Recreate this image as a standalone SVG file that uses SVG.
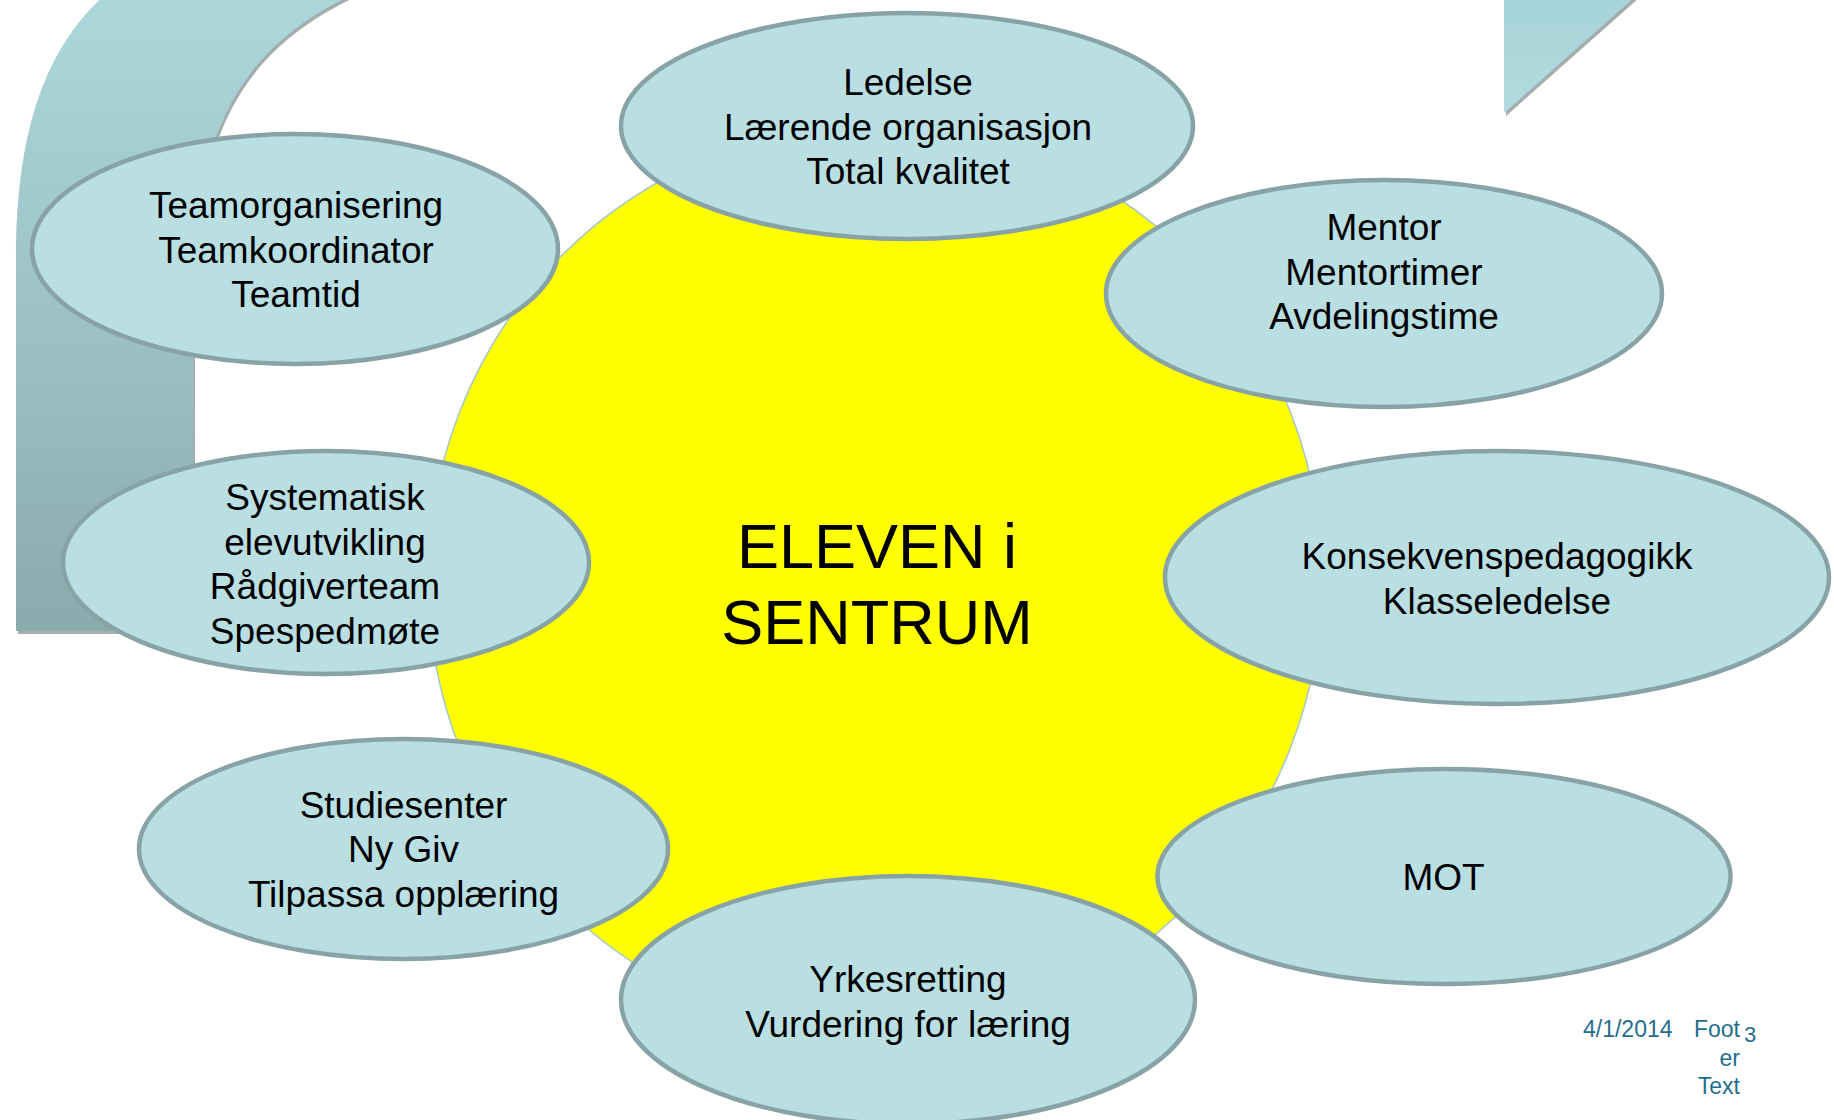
<svg xmlns="http://www.w3.org/2000/svg" width="1834" height="1120" viewBox="0 0 1834 1120">
  <defs>
    <linearGradient id="arcGrad" gradientUnits="userSpaceOnUse" x1="0" y1="0" x2="0" y2="631">
      <stop offset="0" stop-color="#abd7db"/>
      <stop offset="0.5" stop-color="#9dc2c6"/>
      <stop offset="1" stop-color="#8aaaad"/>
    </linearGradient>
    <linearGradient id="triGrad" gradientUnits="userSpaceOnUse" x1="0" y1="0" x2="0" y2="113">
      <stop offset="0" stop-color="#a7d4d8"/>
      <stop offset="1" stop-color="#b1dbdf"/>
    </linearGradient>
    <style>
      .bubble { fill: #b9dfe2; stroke: #87a3a6; stroke-width: 4.5; }
      .lbl { font-family: "Liberation Sans", Arial, sans-serif; font-size: 37px; fill: #000000; text-anchor: middle; }
      .big { font-family: "Liberation Sans", Arial, sans-serif; font-size: 63px; fill: #000000; text-anchor: middle; }
      .foot { font-family: "Liberation Sans", Arial, sans-serif; font-size: 23px; fill: #236e8e; }
      .shadow { fill: #8f9a9b; opacity: 0.8; }
    </style>
  </defs>
  <rect x="0" y="0" width="1834" height="1120" fill="#ffffff"/>

  <g id="background">
    <path class="shadow" transform="translate(2,3)" d="M16,631 L16,260 C16,120 50,30 130,-25 L400,-25 C245,30 193,120 193,300 L193,631 Z"/>
    <path fill="url(#arcGrad)" d="M16,631 L16,260 C16,120 50,30 130,-25 L400,-25 C245,30 193,120 193,300 L193,631 Z"/>
    <polygon class="shadow" transform="translate(2,3)" points="1504,-5 1637,-5 1504,113"/>
    <polygon fill="url(#triGrad)" points="1504,-5 1637,-5 1504,113"/>
  </g>

  <g id="center">
    <ellipse cx="875" cy="580" rx="447" ry="455" fill="#ffff00" stroke="#a3c7cf" stroke-width="1.5"/>
    <text class="big" x="877" y="568">ELEVEN i</text>
    <text class="big" x="877" y="644">SENTRUM</text>
  </g>

  <g id="connectors"></g>

  <g id="node-ledelse">
    <ellipse class="bubble" cx="907" cy="126" rx="286" ry="113"/>
    <text class="lbl" x="908" y="95">Ledelse</text>
    <text class="lbl" x="908" y="139.5">Lærende organisasjon</text>
    <text class="lbl" x="908" y="184">Total kvalitet</text>
  </g>

  <g id="node-team">
    <ellipse class="bubble" cx="295" cy="249" rx="263" ry="115"/>
    <text class="lbl" x="296" y="218">Teamorganisering</text>
    <text class="lbl" x="296" y="263">Teamkoordinator</text>
    <text class="lbl" x="296" y="307">Teamtid</text>
  </g>

  <g id="node-mentor">
    <ellipse class="bubble" cx="1384" cy="293.5" rx="278" ry="113.5"/>
    <text class="lbl" x="1384" y="240">Mentor</text>
    <text class="lbl" x="1384" y="284.5">Mentortimer</text>
    <text class="lbl" x="1384" y="329">Avdelingstime</text>
  </g>

  <g id="node-systematisk">
    <ellipse class="bubble" cx="326" cy="562.5" rx="263" ry="111.5"/>
    <text class="lbl" x="325" y="510">Systematisk</text>
    <text class="lbl" x="325" y="554.5">elevutvikling</text>
    <text class="lbl" x="325" y="599">Rådgiverteam</text>
    <text class="lbl" x="325" y="643.5">Spespedmøte</text>
  </g>

  <g id="node-konsekvens">
    <ellipse class="bubble" cx="1497" cy="577.5" rx="332" ry="126.5"/>
    <text class="lbl" x="1497" y="569">Konsekvenspedagogikk</text>
    <text class="lbl" x="1497" y="613.5">Klasseledelse</text>
  </g>

  <g id="node-studiesenter">
    <ellipse class="bubble" cx="403.5" cy="849" rx="264.5" ry="110"/>
    <text class="lbl" x="403.5" y="817.5">Studiesenter</text>
    <text class="lbl" x="403.5" y="862">Ny Giv</text>
    <text class="lbl" x="403.5" y="906.5">Tilpassa opplæring</text>
  </g>

  <g id="node-mot">
    <ellipse class="bubble" cx="1444" cy="876.5" rx="286.5" ry="107.5"/>
    <text class="lbl" x="1443.5" y="890">MOT</text>
  </g>

  <g id="node-yrkes">
    <ellipse class="bubble" cx="908" cy="1000" rx="287" ry="124"/>
    <text class="lbl" x="908" y="992">Yrkesretting</text>
    <text class="lbl" x="908" y="1037">Vurdering for læring</text>
  </g>

  <g id="footer">
    <text class="foot" x="1583" y="1037">4/1/2014</text>
    <text class="foot" x="1740" y="1037" text-anchor="end">Foot</text>
    <text class="foot" x="1740" y="1066" text-anchor="end">er</text>
    <text class="foot" x="1740" y="1094" text-anchor="end">Text</text>
    <text class="foot" x="1744" y="1042" style="font-size:22px">3</text>
  </g>
</svg>
